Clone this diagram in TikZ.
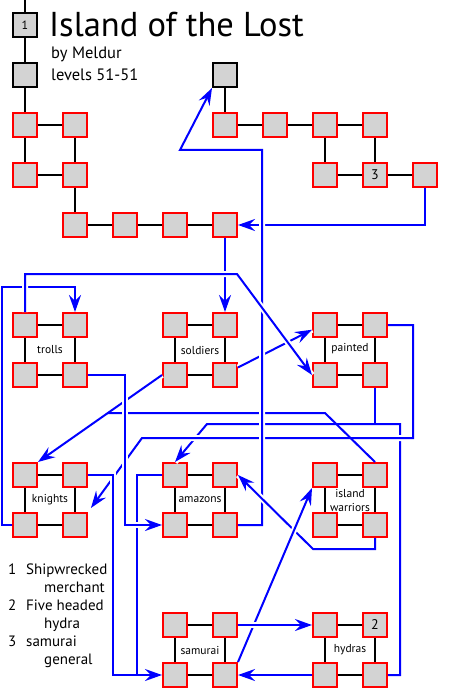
\documentclass[tikz,border=0pt]{standalone}
\usepackage{fontspec}
\setmainfont{PT Sans}
\usetikzlibrary{arrows.meta}
\definecolor{roomgray}{RGB}{211,211,211}

\begin{document}
\begin{tikzpicture}[x=1pt,y=-1pt,
    room/.style={
% The shape:
rectangle,
% The size:
minimum size=24pt, inner sep=0pt,
% The border:
line width=2pt, draw=red, fill=roomgray,
font=\fontsize{14}{14}\selectfont,
},
    exit/.style={
% The shape:
room,
% The border:
draw=black,
},
    link/.style={line width=2pt},
    way/.style={blue, line width=2pt},
    over/.style={way, preaction={draw=white, line width=6pt, -}},
    go/.style={over, -{Stealth[length=17pt, width=12pt, inset=6pt]}},
    tag/.style={font=\fontsize{11.5}{14}\selectfont, align=center, inner sep=0pt},
    note/.style={font=\fontsize{15}{15}\selectfont, anchor=base west, inner sep=0pt},
]
  \useasboundingbox (0,0) rectangle (450,700);

  % title
  \node[note, font=\fontsize{34.5}{34.5}\selectfont] (title) at (49,37) {Island of the Lost};
  \node[note, font=\fontsize{16.5}{16.5}\selectfont] (author) at (51,59) {by Meldur};
  \node[note, font=\fontsize{16.5}{16.5}\selectfont] (levels) at (51,81) {levels 51-51};

  % entry path
  \coordinate (top) at (25,0);
  \node[exit] (B1) at (25,25) {\fontsize{12}{12}\selectfont 1};
  \node[exit] (B2) at (25,75) {};
  \node[exit] (B3) at (225,75) {};
  \node[room] (R1) at (25,125) {};
  \node[room] (R2) at (75,125) {};
  \node[room] (R3) at (25,175) {};
  \node[room] (R4) at (75,175) {};
  \node[room] (R5) at (75,225) {};
  \node[room] (R6) at (125,225) {};
  \node[room] (R7) at (175,225) {};
  \node[room] (R8) at (225,225) {};
  \node[room] (Q1) at (225,125) {};
  \node[room] (Q2) at (275,125) {};
  \node[room] (Q3) at (325,125) {};
  \node[room] (Q4) at (375,125) {};
  \node[room] (Q5) at (325,175) {};
  \node[room] (Q6) at (375,175) {3};
  \node[room] (Q7) at (425,175) {};

  % trolls
  \node[room] (T1) at (25,325) {};
  \node[room] (T2) at (75,325) {};
  \node[room] (T3) at (25,375) {};
  \node[room] (T4) at (75,375) {};
  \node[tag] (Tn) at (50,350) {trolls};
  % soldiers
  \node[room] (S1) at (175,325) {};
  \node[room] (S2) at (225,325) {};
  \node[room] (S3) at (175,375) {};
  \node[room] (S4) at (225,375) {};
  \node[tag] (Sn) at (200,350) {soldiers};
  % painted
  \node[room] (P1) at (325,325) {};
  \node[room] (P2) at (375,325) {};
  \node[room] (P3) at (325,375) {};
  \node[room] (P4) at (375,375) {};
  \node[tag] (Pn) at (350,349) {painted};
  % knights
  \node[room] (K1) at (25,475) {};
  \node[room] (K2) at (75,475) {};
  \node[room] (K3) at (25,525) {};
  \node[room] (K4) at (75,525) {};
  \node[tag] (Kn) at (50,500) {knights};
  % amazons
  \node[room] (A1) at (175,475) {};
  \node[room] (A2) at (225,475) {};
  \node[room] (A3) at (175,525) {};
  \node[room] (A4) at (225,525) {};
  \node[tag] (An) at (200,500) {amazons};
  % island warriors
  \node[room] (W1) at (325,475) {};
  \node[room] (W2) at (375,475) {};
  \node[room] (W3) at (325,525) {};
  \node[room] (W4) at (375,525) {};
  \node[tag] (Wn) at (350,500) {island\\warriors};
  % samurai
  \node[room] (M1) at (175,625) {};
  \node[room] (M2) at (225,625) {};
  \node[room] (M3) at (175,675) {};
  \node[room] (M4) at (225,675) {};
  \node[tag] (Mn) at (200,650) {samurai};
  % hydras
  \node[room] (H1) at (325,625) {};
  \node[room] (H2) at (375,625) {2};
  \node[room] (H3) at (325,675) {};
  \node[room] (H4) at (375,675) {};
  \node[tag] (Hn) at (350,650) {hydras};

  % legend
  \node[note] (n1) at (8,574) {1};
  \node[note] (d1) at (26,574) {Shipwrecked};
  \node[note] (e1) at (44,592) {merchant};
  \node[note] (n2) at (8,610) {2};
  \node[note] (d2) at (26,610) {Five headed};
  \node[note] (e2) at (44,628) {hydra};
  \node[note] (n3) at (8,646) {3};
  \node[note] (d3) at (26,646) {samurai};
  \node[note] (e3) at (44,664) {general};

  % corners of the blue ways
  \coordinate (c1) at (262,150);
  \coordinate (c2) at (180,150);
  \coordinate (c3) at (237,274);
  \coordinate (c4) at (2,287);
  \coordinate (c5) at (125,525);
  \coordinate (c6) at (413,438);
  \coordinate (c7) at (142,438);
  \coordinate (c8) at (400,424);
  \coordinate (c9) at (207,424);
  \coordinate (c10) at (325,413);
  \coordinate (c11) at (107,413);
  \coordinate (c12) at (313,549);
  \coordinate (c13) at (113,675);
  \coordinate (c14) at (137,675);

  % blue ways
  \draw [go] (Q7.south) |- (R8.east);
  \draw [go] (R8.south) -- (S2.north);
  \draw [go] (H4.east) -| (c8) -- (c9) -- (A1.north);
  \draw [way] (P4.south) -- (P4.south |- c8);
  \draw [go, shorten >=5pt] (P2.east) -| (c6) -- (c7) -- (K4.north east);
  \draw [go] (S3.west) -- (K1.north east);
  \draw [way] (W2.north) -- (c10) -- (c11);
  \draw [go] (S4.30) -- (P1.200);
  \draw [go] (A4.east) -| (c1) -- (c2) -- (B3.south west);
  \draw [go] (K3.west) -| (c4) -| (T2.north);
  \draw [go] (T1.north) |- (c3) -- (P3.west);
  \draw [go] (K2.east) -| (c13) -- (M3.west);
  \draw [way] (A1.west) -| (c14);
  \draw [go] (T4.east) -| (c5) -- (A3.west);
  \draw [go] (W4.south) |- (c12) -- (A2.east);
  \draw [go] (M4.north east) -- (W1.south west);
  \draw [go] (M2.east) -- (H1.west);
  \draw [go] (H3.west) -- (M4.east);

  % black links
  \draw [link] (top) -- (B1);
  \draw [link] (B1) -- (B2);
  \draw [link] (B2) -- (R1);
  \draw [link] (R1) -- (R2);
  \draw [link] (R1) -- (R3);
  \draw [link] (R2) -- (R4);
  \draw [link] (R3) -- (R4);
  \draw [link] (R4) -- (R5);
  \draw [link] (R5) -- (R6);
  \draw [link] (R6) -- (R7);
  \draw [link] (R7) -- (R8);
  \draw [link] (B3) -- (Q1);
  \draw [link] (Q1) -- (Q2);
  \draw [link] (Q2) -- (Q3);
  \draw [link] (Q3) -- (Q4);
  \draw [link] (Q3) -- (Q5);
  \draw [link] (Q4) -- (Q6);
  \draw [link] (Q5) -- (Q6);
  \draw [link] (Q6) -- (Q7);
  \draw [link] (T1) -- (T2) -- (T4) -- (T3) -- (T1);
  \draw [link] (S1) -- (S2) -- (S4) -- (S3) -- (S1);
  \draw [link] (P1) -- (P2) -- (P4) -- (P3) -- (P1);
  \draw [link] (K1) -- (K2) -- (K4) -- (K3) -- (K1);
  \draw [link] (A1) -- (A2) -- (A4) -- (A3) -- (A1);
  \draw [link] (W1) -- (W2) -- (W4) -- (W3) -- (W1);
  \draw [link] (M1) -- (M2) -- (M4) -- (M3) -- (M1);
  \draw [link] (H1) -- (H2) -- (H4) -- (H3) -- (H1);
\end{tikzpicture}
\end{document}
